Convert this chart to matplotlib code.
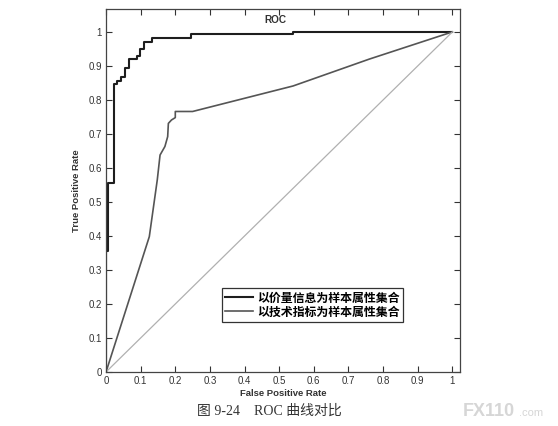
import numpy as np
from matplotlib import pyplot as plt

# ROC curve built from price/volume attributes (black step curve)
fpr_price = [0.0, 0.0, 0.005, 0.005, 0.023, 0.023, 0.031, 0.031, 0.042, 0.042,
             0.055, 0.055, 0.066, 0.066, 0.088, 0.088, 0.098, 0.098, 0.11, 0.11,
             0.133, 0.133, 0.245, 0.245, 0.54, 0.54, 1.0]
tpr_price = [0.0, 0.355, 0.355, 0.555, 0.555, 0.846, 0.846, 0.856, 0.856, 0.866,
             0.866, 0.895, 0.895, 0.921, 0.921, 0.929, 0.929, 0.949, 0.949, 0.969,
             0.969, 0.983, 0.983, 0.994, 0.994, 1.0, 1.0]

# ROC curve built from technical indicators (gray curve)
fpr_tech = [0.0, 0.125, 0.148, 0.156, 0.17, 0.178, 0.18, 0.189, 0.2, 0.2,
            0.25, 0.54, 0.76, 1.0]
tpr_tech = [0.0, 0.398, 0.565, 0.638, 0.663, 0.692, 0.731, 0.741, 0.748, 0.766,
            0.766, 0.841, 0.92, 1.0]

# random-guess diagonal
fpr_diag = [0.0, 1.0]
tpr_diag = [0.0, 1.0]

labels = ["以价量信息为样本属性集合", "以技术指标为样本属性集合"]
ticks = np.round(np.arange(0, 1.01, 0.1), 1)
tick_labels = ["0"] + ["%.1f" % t for t in ticks[1:-1]] + ["1"]

fig = plt.figure(figsize=(5.58, 4.26), dpi=100)
ax = fig.add_axes([0.19, 0.1268, 0.6344, 0.851])

ax.plot(fpr_price, tpr_price, color="#1e1e1e", linewidth=1.5, label=labels[0])
ax.plot(fpr_tech, tpr_tech, color="#555555", linewidth=1.2, label=labels[1])
ax.plot(fpr_diag, tpr_diag, color="#b0b0b0", linewidth=0.9)

ax.set_xlim(0, 1.022)
ax.set_ylim(0, 1.066)
ax.set_xticks(ticks)
ax.set_xticklabels(tick_labels)
ax.set_yticks(ticks)
ax.set_yticklabels(tick_labels)
ax.tick_params(direction="in", length=4, width=0.8, top=True, right=True,
               labelsize=7, colors="#333333", pad=3)
for sp in ax.spines.values():
    sp.set_color("#444444")
    sp.set_linewidth(0.9)

ax.set_xlabel("False Positive Rate", fontsize=6.8, fontweight="bold",
              family="Liberation Sans", labelpad=2, color="#333333")
ax.set_ylabel("True Positive Rate", fontsize=6.8, fontweight="bold",
              family="Liberation Sans", labelpad=5, color="#333333")
for lab in ax.get_xticklabels() + ax.get_yticklabels():
    lab.set_family("Liberation Sans")

ax.text(0.49, 1.035, "ROC", fontsize=7.2, fontweight="bold", family="Liberation Sans",
        ha="center", va="center", color="#333333")

leg = ax.legend(loc="lower left", bbox_to_anchor=(0.329, 0.139), borderaxespad=0,
                prop={"family": ["Noto Sans CJK SC"], "size": 8.6, "weight": "bold"},
                handlelength=2.3, handletextpad=0.35, labelspacing=0.1,
                borderpad=0.25, fancybox=False, framealpha=1)
leg.get_frame().set_edgecolor("#333333")
leg.get_frame().set_linewidth(0.9)

fig.text(0.483, 0.034, "图 9-24    ROC 曲线对比", fontsize=10,
         family=["Liberation Serif", "Noto Sans CJK SC"], ha="center", va="center",
         color="#333333")
fig.text(0.83, 0.034, "FX110", fontsize=13, fontweight="bold", family="Liberation Sans",
         ha="left", va="center", color="#d6d6d6")
fig.text(0.93, 0.03, ".com", fontsize=8, family="Liberation Sans",
         ha="left", va="center", color="#d6d6d6")

fig.savefig("out.png", dpi=100)
